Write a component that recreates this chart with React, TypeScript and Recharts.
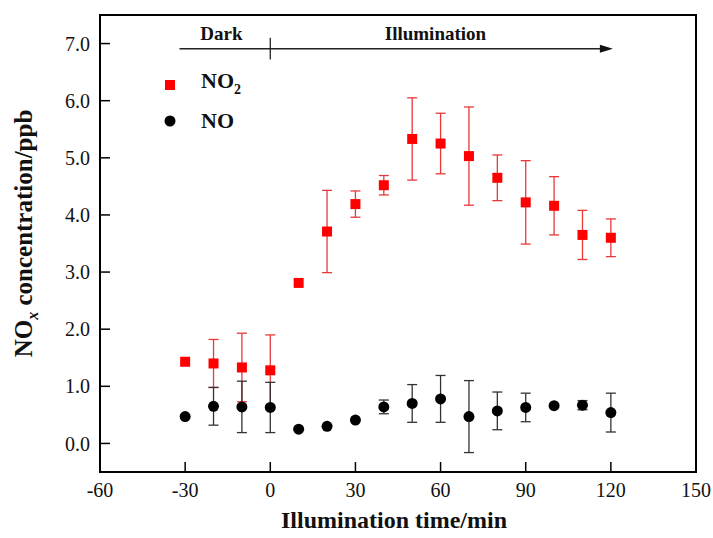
import React from 'react';
import {
  ScatterChart, Scatter, XAxis, YAxis, ErrorBar, ReferenceLine, ReferenceDot,
  ReferenceArea, Legend, Label,
} from 'recharts';

const time = [-30, -20, -10, 0, 10, 20, 30, 40, 50, 60, 70, 80, 90, 100, 110, 120];
const no2 = [1.43, 1.40, 1.33, 1.28, 2.81, 3.71, 4.19, 4.52, 5.33, 5.25, 5.03, 4.65, 4.22, 4.16, 3.65, 3.60];
const no2Err = [null, 0.42, 0.6, 0.62, null, 0.72, 0.23, 0.17, 0.72, 0.53, 0.86, 0.4, 0.73, 0.51, 0.43, 0.33];
const no = [0.47, 0.65, 0.64, 0.63, 0.25, 0.30, 0.41, 0.64, 0.70, 0.78, 0.47, 0.57, 0.63, 0.66, 0.67, 0.54];
const noErr = [null, 0.33, 0.45, 0.44, null, null, null, 0.12, 0.33, 0.41, 0.63, 0.33, 0.25, null, 0.08, 0.34];

const xTicks = [-60, -30, 0, 30, 60, 90, 120, 150];
const yTicks = [0, 1, 2, 3, 4, 5, 6, 7];

const serif = '"Liberation Serif", "Times New Roman", serif';

const no2Data = time.map((x, i) => ({ x, y: no2[i], err: no2Err[i] }));
const noData = time.map((x, i) => ({ x, y: no[i], err: noErr[i] }));

const Square = (p: any) => (
  <rect x={p.cx - 5} y={p.cy - 5} width={10} height={10} fill="#ff0000" />
);
const Dot = (p: any) => <circle cx={p.cx} cy={p.cy} r={5.5} fill="#000" />;

const LegendBox = () => (
  <div style={{ fontFamily: serif, fontWeight: 'bold', fontSize: 22, color: '#111' }}>
    <div style={{ display: 'flex', alignItems: 'center', height: 22, marginBottom: 14 }}>
      <svg width={14} height={14}><rect x={2} y={2} width={10} height={10} fill="#ff0000" /></svg>
      <span style={{ marginLeft: 24, lineHeight: '22px' }}>
        NO<sub style={{ fontSize: 14, verticalAlign: -6 }}>2</sub>
      </span>
    </div>
    <div style={{ display: 'flex', alignItems: 'center', height: 22 }}>
      <svg width={14} height={14}><circle cx={7} cy={7} r={5.5} fill="#000" /></svg>
      <span style={{ marginLeft: 24, lineHeight: '22px' }}>NO</span>
    </div>
  </div>
);

const YTitle = (props: any) => {
  const vb = props.viewBox;
  const cx = vb.x + 32;
  const cy = vb.y + vb.height / 2 - 10;
  return (
    <text x={cx} y={cy} transform={`rotate(-90 ${cx} ${cy})`} textAnchor="middle"
      fontFamily={serif} fontWeight="bold" fontSize={25} fill="#111">
      NO<tspan fontStyle="italic" fontSize={16} dy={6}>x</tspan>
      <tspan dy={-6}> concentration/ppb</tspan>
    </text>
  );
};

const XTitle = (props: any) => {
  const vb = props.viewBox;
  return (
    <text x={vb.x + vb.width / 2 - 4} y={vb.y + 56} textAnchor="middle"
      fontFamily={serif} fontWeight="bold" fontSize={24} fill="#111">
      Illumination time/min
    </text>
  );
};

const textShape = (label: string) => (p: any) => (
  <text x={p.cx} y={p.cy} textAnchor="middle" fontFamily={serif} fontWeight="bold"
    fontSize={19} fill="#111">{label}</text>
);

const ArrowHead = (p: any) => (
  <polygon points={`${p.cx + 2},${p.cy} ${p.cx - 11},${p.cy - 4} ${p.cx - 11},${p.cy + 4}`} fill="#111" />
);

export default function App() {
  return (
    <div style={{ position: 'absolute', left: 0, top: 0, width: 713, height: 538, overflow: 'hidden', background: '#fff' }}>
      <ScatterChart width={713} height={538} margin={{ top: 15, right: 17, bottom: 0, left: 0 }}>
        <XAxis type="number" dataKey="x" domain={[-60, 150]} ticks={xTicks} height={66}
          axisLine={{ stroke: '#000', strokeWidth: 2 }} tickLine={{ stroke: '#000', strokeWidth: 1.5 }}
          tickSize={-10} tickMargin={21}
          tick={{ fontFamily: serif, fontSize: 20, fill: '#111' }}>
          <Label content={XTitle} />
        </XAxis>
        <YAxis type="number" dataKey="y" domain={[-0.5, 7.5]} ticks={yTicks} width={100}
          axisLine={{ stroke: '#000', strokeWidth: 2 }} tickLine={{ stroke: '#000', strokeWidth: 1.5 }}
          tickSize={-10} tickMargin={20} tickFormatter={(v: number) => v.toFixed(1)}
          tick={{ fontFamily: serif, fontSize: 20, fill: '#111' }}>
          <Label content={YTitle} />
        </YAxis>
        <ReferenceArea x1={-60} x2={150} y1={-0.5} y2={7.5} fill="none" stroke="#000" strokeWidth={2} />
        <ReferenceLine segment={[{ x: -32, y: 6.91 }, { x: 119, y: 6.91 }]} stroke="#222" strokeWidth={1.5} />
        <ReferenceLine segment={[{ x: 0, y: 7.1 }, { x: 0, y: 6.72 }]} stroke="#222" strokeWidth={1.3} />
        <ReferenceDot x={120} y={6.91} shape={ArrowHead} />
        <ReferenceDot x={-17.2} y={7.07} shape={textShape('Dark')} />
        <ReferenceDot x={58.2} y={7.07} shape={textShape('Illumination')} />
        <Legend layout="vertical" align="center" verticalAlign="middle" content={LegendBox}
          wrapperStyle={{ position: 'absolute', left: 163, top: 74, width: 120 }} />
        <Scatter name="NO2" data={no2Data} shape={Square} isAnimationActive={false}>
          <ErrorBar dataKey="err" direction="y" width={5} stroke="#e8393a" strokeWidth={1.3} isAnimationActive={false} />
        </Scatter>
        <Scatter name="NO" data={noData} shape={Dot} isAnimationActive={false}>
          <ErrorBar dataKey="err" direction="y" width={5} stroke="#333" strokeWidth={1.3} isAnimationActive={false} />
        </Scatter>
      </ScatterChart>
    </div>
  );
}
